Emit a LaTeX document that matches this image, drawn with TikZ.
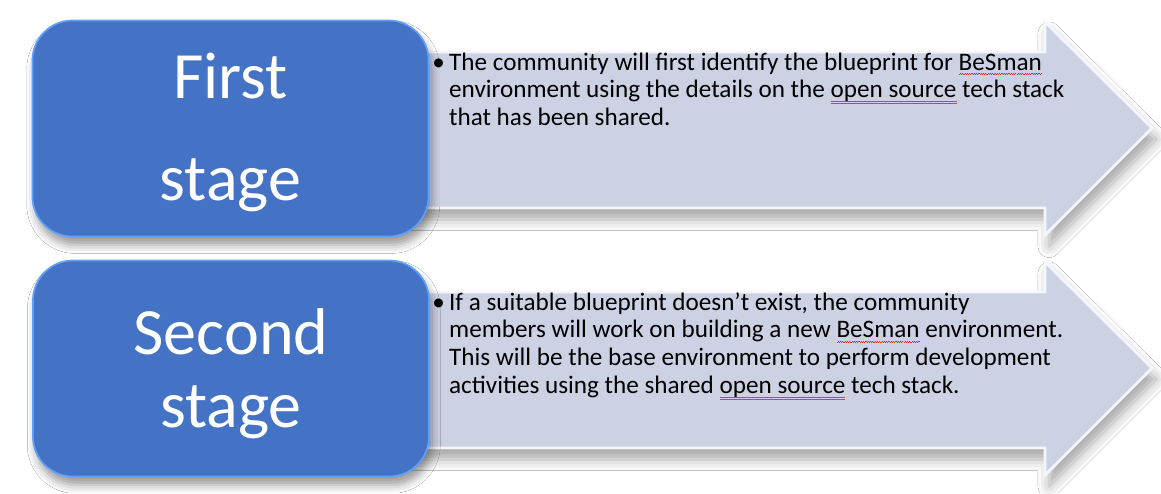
\documentclass[tikz,border=0pt]{standalone}
\usepackage{fontspec}
\setmainfont{Carlito}
\usetikzlibrary{positioning, shadows, shadows.blur}
\definecolor{stage-blue}{RGB}{68,114,196}
\definecolor{stage-rim}{RGB}{96,160,250}
\definecolor{arrow-fill}{RGB}{205,209,228}
\definecolor{spell-red}{RGB}{230,40,40}
\definecolor{gram-blue}{RGB}{70,110,230}
\newsavebox{\markbox}
% spell-check marks as the screenshot shows them
\newcommand{\spellmark}[1]{\sbox{\markbox}{#1}\rlap{\color{spell-red}\xleaders\hbox{\rule[-3.6pt]{0.8pt}{0.5pt}\rule[-2.9pt]{0.8pt}{0.5pt}}\hskip\wd\markbox}\usebox{\markbox}}
\newcommand{\grammark}[1]{\sbox{\markbox}{#1}\rlap{\color{gram-blue}\rule[-2.6pt]{\wd\markbox}{0.5pt}}\rlap{\color{gram-blue}\rule[-3.8pt]{\wd\markbox}{0.5pt}}\usebox{\markbox}}
\newcommand{\bulletlines}[1]{\makebox[12pt][l]{\textbullet}\parbox[t]{15.5cm}{#1}}

\begin{document}
\begin{tikzpicture}[x=0.025cm, y=-0.025cm,
    stagebox/.style={rectangle, rounded corners=1cm, fill=stage-blue, draw=stage-rim, line width=1.2pt, minimum width=9.9cm, minimum height=5.4cm, text=white, align=center, font=\fontsize{47}{52}\selectfont, blur shadow={shadow xshift=2pt, shadow yshift=-6pt, shadow blur radius=6pt, shadow opacity=40}},
    stagearrow/.style={fill=arrow-fill, draw=white!80!arrow-fill, line width=2pt, line join=miter, blur shadow={shadow xshift=3pt, shadow yshift=-8pt, shadow blur radius=8pt, shadow opacity=35}},
    stagetext/.style={anchor=base west, inner sep=0pt, font=\fontsize{17.9}{19.9}\selectfont}]

    % canvas
    \fill[white] (0,0) rectangle (1161,493);
    \useasboundingbox (0,0) rectangle (1161,493);

    % First stage
    \draw[stagearrow] (395,52) -- (1045,52) -- (1045,22) -- (1152,128) -- (1045,235) -- (1045,208) -- (395,208) -- cycle;
    \node[stagebox] (first) at (230.5,128.5) {\rule{0pt}{38pt}First\\[21pt]stage};
    \node[stagetext] (firsttext) at (432,70) {\bulletlines{The community will first identify the blueprint for \spellmark{BeSman}\newline
        environment using the details on the \grammark{open source} tech stack\newline
        that has been shared.}};

    % Second stage
    \draw[stagearrow] (395,292) -- (1045,292) -- (1045,262) -- (1152,368) -- (1045,475) -- (1045,448) -- (395,448) -- cycle;
    \node[stagebox] (second) at (231,368.5) {\rule{0pt}{40pt}Second\\stage};
    \node[stagetext] (secondtext) at (432,310) {\bulletlines{If a suitable blueprint doesn’t exist, the community\newline
        members will work on building a new \spellmark{BeSman} environment.\newline
        This will be the base environment to perform development\newline
        activities using the shared \grammark{open source} tech stack.}};
\end{tikzpicture}
\end{document}
